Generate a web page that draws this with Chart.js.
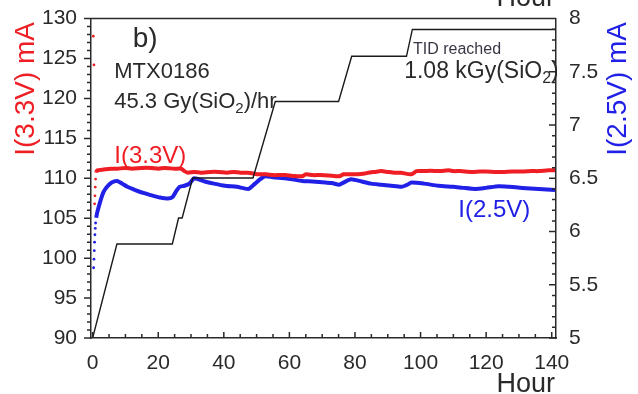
<!DOCTYPE html>
<html>
<head>
<meta charset="utf-8">
<script src="https://cdn.jsdelivr.net/npm/chart.js@4"></script>
<style>
    html, body { margin: 0; padding: 0; background: #fff; }
    canvas { display: block; }
</style>
</head>
<body>
<canvas id="chart" width="638" height="394"></canvas>
<script>
// I(3.3V) supply current, mA (left axis)
const i33Hours = [0.2, 0.4, 0.6, 0.7, 0.8, 0.9, 1.1, 1.4, 3.4, 5.5, 7.5, 10, 12, 15, 17.8, 20, 22, 25, 27, 28,
    29, 31, 33, 36, 38.3, 41, 43, 45, 47.5, 49, 50.6, 53, 55, 57, 58.8, 61, 63.9, 65, 67, 69.5,
    72, 75.2, 76.5, 78, 80.8, 83, 84, 86, 88, 90, 92.1, 94, 97.2, 98.8, 101, 103, 106, 108.5, 110, 112,
    115.7, 118, 120, 123, 125, 128, 131, 134, 136, 139, 141];
const i33Values = [127.8, 124.2, 106.8, 107.8, 108.9, 109.9, 110.7, 111.0, 111.1, 111.2, 111.2, 111.3, 111.2, 111.3, 111.3, 111.2, 111.3, 111.2, 111.2, 110.9,
    110.7, 110.8, 110.7, 110.8, 110.8, 110.7, 110.8, 110.7, 110.7, 110.6, 110.5, 110.5, 110.4, 110.4, 110.4, 110.3, 110.25, 110.5, 110.4, 110.4,
    110.35, 110.25, 110.5, 110.5, 110.5, 110.6, 110.7, 110.8, 110.9, 110.8, 110.7, 110.7, 110.5, 110.9, 110.9, 110.95, 110.9, 111.0, 110.9, 110.9,
    110.8, 110.85, 110.85, 110.8, 110.8, 110.85, 110.85, 110.9, 110.9, 111.0, 111.0];
const i33DotCount = 6; // first readings show as loose dots

// I(2.5V) supply current, mA (right axis)
const i25Hours = [0.3, 0.4, 0.5, 0.6, 0.7, 0.8, 0.9, 1.1, 1.4, 2.4, 3.3, 4.4, 5.8, 7.5, 9, 10.6, 13, 15.7, 18, 20.5,
    22.9, 24.4, 25.5, 26.5, 28, 29.5, 31, 34.2, 37, 40.3, 44, 47.5, 49.5, 51, 52.6, 55, 58.8, 61, 63.9, 67,
    71, 73, 75.2, 76.5, 78.8, 82, 84.9, 88, 91, 94.2, 96, 97.2, 101, 105.4, 110, 113, 116.7, 120, 123.8, 127,
    131, 136, 141];
const i25Values = [5.66, 5.74, 5.82, 5.9, 5.97, 6.03, 6.08, 6.13, 6.18, 6.29, 6.37, 6.42, 6.46, 6.475, 6.45, 6.42, 6.39, 6.36, 6.34, 6.32,
    6.31, 6.325, 6.38, 6.42, 6.43, 6.45, 6.5, 6.47, 6.45, 6.43, 6.42, 6.40, 6.45, 6.49, 6.52, 6.51, 6.50, 6.49, 6.475, 6.47,
    6.46, 6.455, 6.44, 6.46, 6.49, 6.47, 6.45, 6.44, 6.43, 6.42, 6.44, 6.46, 6.45, 6.43, 6.42, 6.41, 6.40, 6.41, 6.425, 6.42,
    6.41, 6.40, 6.39];
const i25DotCount = 7;

// accumulated dose, kGy(SiO2) (hidden axis)
const tidHours = [0, 7.4, 24.3, 26.2, 27.3, 30.5, 48.9, 55.7, 75, 79, 95.7, 97.5, 141];
const tidDose = [0, 0.329, 0.329, 0.42, 0.42, 0.56, 0.56, 0.828, 0.828, 0.986, 0.986, 1.08, 1.08];

const hourTicks = [0, 20, 40, 60, 80, 100, 120, 140];
const leftTicks = [90, 95, 100, 105, 110, 115, 120, 125, 130];
const rightTicks = [5, 5.5, 6, 6.5, 7, 7.5, 8];

const FONT = '"Liberation Sans", Arial, sans-serif';
const RED = 'rgb(238, 30, 36)';
const BLUE = 'rgb(32, 32, 230)';
const INK = '#2a2a2a';

const toPoints = (xs, ys) => xs.map((x, i) => ({ x, y: ys[i] }));
const fixedTicks = list => scale => { scale.ticks = list.map(v => ({ value: v })); };

// text runs: [text, isSubscript]
function drawRuns(ctx, runs, x, y, size, color) {
    let cx = x;
    ctx.fillStyle = color;
    ctx.textAlign = 'left';
    ctx.textBaseline = 'alphabetic';
    runs.forEach(([text, sub]) => {
        const s = sub ? Math.round(size * 0.68) : size;
        ctx.font = s + 'px ' + FONT;
        ctx.fillText(text, cx, sub ? y + size * 0.22 : y);
        cx += ctx.measureText(text).width;
    });
}

const decorations = {
    id: 'decorations',
    afterDraw(chart) {
        const ctx = chart.ctx;
        const { left, right, top, bottom } = chart.chartArea;
        const xs = chart.scales.x, ys = chart.scales.y, y2 = chart.scales.y2;
        ctx.save();

        // frame top + minor/major tick marks
        ctx.strokeStyle = INK;
        ctx.lineWidth = 1.5;
        ctx.beginPath();
        ctx.moveTo(left, top);
        ctx.lineTo(right, top);
        for (let v = 90; v <= 130; v++) {
            const py = ys.getPixelForValue(v);
            const len = v % 5 === 0 ? 7 : 4;
            ctx.moveTo(left - len, py);
            ctx.lineTo(left, py);
        }
        for (let k = 50; k <= 80; k++) {
            const py = y2.getPixelForValue(k / 10);
            const len = k % 5 === 0 ? 7 : 4;
            ctx.moveTo(right - len, py);
            ctx.lineTo(right, py);
        }
        for (let v = 0; v <= 140; v += 5) {
            const px = xs.getPixelForValue(v);
            const len = v % 20 === 0 ? 6 : 4;
            ctx.moveTo(px, bottom);
            ctx.lineTo(px, bottom - len);
        }
        ctx.stroke();

        // annotations, placed in data units
        const at = (h, mA) => [xs.getPixelForValue(h), ys.getPixelForValue(mA)];
        let p;
        p = at(12.2, 126.5); drawRuns(ctx, [['b)']], p[0], p[1], 28, INK);
        p = at(6.6, 122.6); drawRuns(ctx, [['MTX0186']], p[0], p[1], 22, INK);
        p = at(6.6, 118.8); drawRuns(ctx, [['45.3 Gy(SiO'], ['2', true], [')/hr']], p[0], p[1], 22, INK);
        p = at(6.6, 111.9); drawRuns(ctx, [['I(3.3V)']], p[0], p[1], 24, RED);
        p = at(111.5, 105.1); drawRuns(ctx, [['I(2.5V)']], p[0], p[1], 24, BLUE);
        p = at(97.7, 125.6); drawRuns(ctx, [['TID reached']], p[0], p[1], 16, '#3a3545');

        ctx.save();
        ctx.beginPath();
        ctx.rect(left, top, right - left + 1, bottom - top);
        ctx.clip();
        p = at(95.0, 122.6); drawRuns(ctx, [['1.08 kGy(SiO'], ['2', true], [')']], p[0], p[1], 23, INK);
        ctx.restore();

        // axis titles
        ctx.font = '28px ' + FONT;
        ctx.textAlign = 'center';
        ctx.textBaseline = 'middle';
        ctx.save();
        ctx.translate(left - 65, ys.getPixelForValue(121.2));
        ctx.rotate(-Math.PI / 2);
        ctx.fillStyle = RED;
        ctx.fillText('I(3.3V) mA', 0, 0);
        ctx.restore();
        ctx.save();
        ctx.translate(right + 62, y2.getPixelForValue(7.34));
        ctx.rotate(-Math.PI / 2);
        ctx.fillStyle = BLUE;
        ctx.fillText('I(2.5V) mA', 0, 0);
        ctx.restore();

        ctx.font = '27px ' + FONT;
        ctx.fillStyle = INK;
        ctx.textAlign = 'right';
        ctx.textBaseline = 'alphabetic';
        ctx.fillText('Hour', right - 1, chart.height - 2);
        ctx.fillText('Hour', right - 1, 6); // top axis title, cut by the page edge
        ctx.restore();
    }
};

const tickFont = { family: FONT, size: 21 };

new Chart(document.getElementById('chart'), {
    type: 'line',
    data: {
        datasets: [
            {
                label: 'TID',
                data: toPoints(tidHours, tidDose),
                yAxisID: 'tid',
                borderColor: '#1a1a1a',
                borderWidth: 1.4,
                pointRadius: 0,
                tension: 0,
                order: 0
            },
            {
                label: 'I(3.3V)',
                data: toPoints(i33Hours, i33Values),
                yAxisID: 'y',
                borderColor: RED,
                backgroundColor: RED,
                borderWidth: 4,
                pointRadius: c => c.dataIndex < i33DotCount ? 1.4 : 0,
                pointBorderWidth: 0,
                segment: { borderColor: c => c.p0DataIndex < i33DotCount ? 'transparent' : undefined },
                tension: 0.2,
                order: 1
            },
            {
                label: 'I(2.5V)',
                data: toPoints(i25Hours, i25Values),
                yAxisID: 'y2',
                borderColor: BLUE,
                backgroundColor: BLUE,
                borderWidth: 4,
                pointRadius: c => c.dataIndex < i25DotCount ? 1.4 : 0,
                pointBorderWidth: 0,
                segment: { borderColor: c => c.p0DataIndex < i25DotCount ? 'transparent' : undefined },
                tension: 0.2,
                order: 2
            }
        ]
    },
    options: {
        responsive: false,
        animation: false,
        layout: { padding: { top: 18, left: 0, right: 0, bottom: 0 } },
        plugins: { legend: { display: false }, tooltip: { enabled: false } },
        scales: {
            x: {
                type: 'linear',
                position: 'bottom',
                min: -0.5,
                max: 141.3,
                grid: { display: false },
                border: { color: INK, width: 1.5 },
                afterBuildTicks: fixedTicks(hourTicks),
                afterFit: s => { s.height = 56; },
                ticks: { font: tickFont, color: INK, padding: 5, maxRotation: 0, callback: v => String(v) }
            },
            y: {
                position: 'left',
                min: 90,
                max: 130,
                grid: { display: false },
                border: { color: INK, width: 1.5 },
                afterBuildTicks: fixedTicks(leftTicks),
                afterFit: s => { s.width = 91; },
                ticks: { font: tickFont, color: INK, padding: 6, callback: v => String(v) }
            },
            y2: {
                position: 'right',
                min: 5,
                max: 8,
                grid: { display: false },
                border: { color: INK, width: 1.5 },
                afterBuildTicks: fixedTicks(rightTicks),
                afterFit: s => { s.width = 82; },
                ticks: { font: tickFont, color: INK, padding: 5, callback: v => String(v) }
            },
            tid: {
                display: false,
                min: 0,
                max: 1.118
            }
        }
    },
    plugins: [decorations]
});
</script>
</body>
</html>
